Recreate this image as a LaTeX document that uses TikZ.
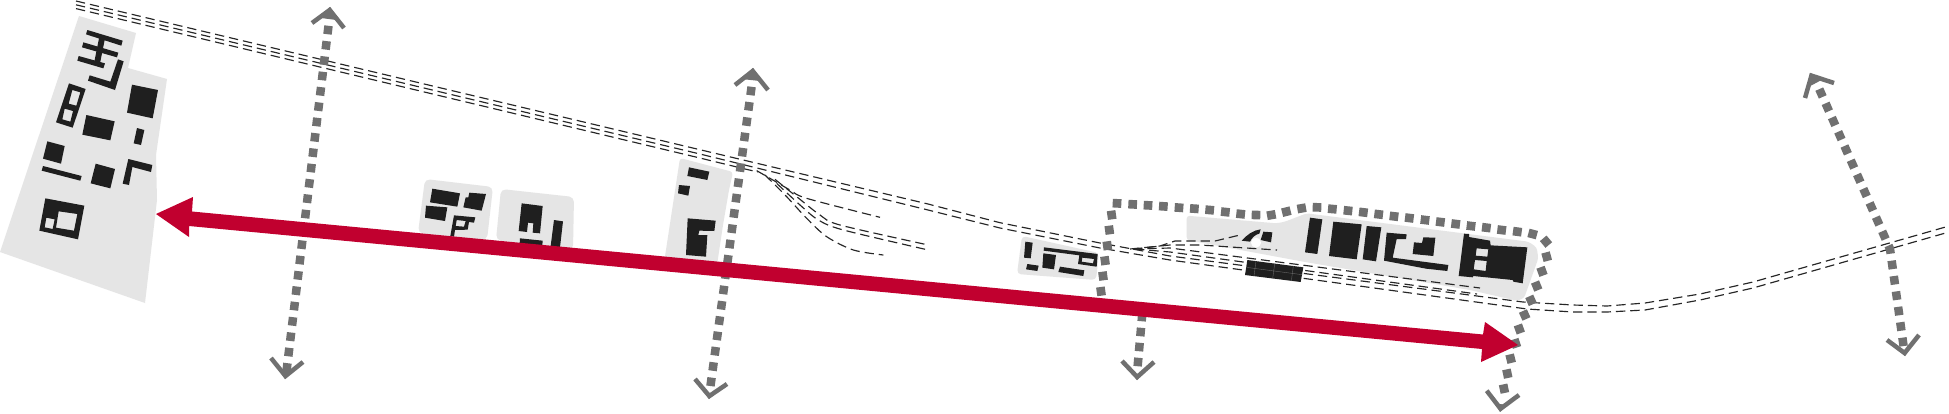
\documentclass[tikz,border=0pt]{standalone}
\usetikzlibrary{calc}
\definecolor{blob}{HTML}{E5E5E5}
\definecolor{bldg}{HTML}{1F1F1F}
\definecolor{dotgray}{HTML}{707070}
\definecolor{redarrow}{HTML}{C1002F}
\tikzset{
  zm/.style n args={3}{shift={(#1pt,-#2pt)},x=#3pt,y=-#3pt},
  ground/.style={fill=blob},
  groundr/.style={fill=blob,rounded corners=5pt},
  bld/.style={fill=bldg,even odd rule},
  rail/.style={draw=black!85,line width=1.15pt,dash pattern=on 9.3pt off 5pt},
  dotline/.style={draw=dotgray,line width=8.5pt,dash pattern=on 8.5pt off 6.95pt,shorten <=-4.25pt,shorten >=-4.25pt},
  chevron/.style={draw=dotgray,line width=4.5pt,miter limit=10}
}
\newcommand{\chev}[5]{%
  \draw[chevron] (#1) -- ($(#2)!3pt!(#4)$) -- (#3);
  \fill[dotgray] (#2) -- ($(#2)!#5!(#1)$) -- ($(#2)!#5!(#3)$) -- cycle;}
\begin{document}
\begin{tikzpicture}[x=1pt,y=-1pt]
\useasboundingbox[fill=white] (0,0) rectangle (1949,413);
% ground areas
\fill[ground] (79,16) -- (136,33) -- (128,68) -- (167,79) -- (156,155) -- (157,200) -- (145,303) -- (0,252) -- cycle;
\fill[groundr] (425,179) -- (493,187) -- (487,240) -- (418,233) -- cycle;
\fill[groundr] (501,189) -- (574,197) -- (573,250) -- (496,240) -- cycle;
\fill[ground,rounded corners=3pt] (680,158) -- (733,172) -- (729,190) -- (723,225) -- (717,265) -- (664,263) -- cycle;
\fill[ground,rounded corners=4pt] (1022,236) -- (1099,253) -- (1096,280) -- (1017,274) -- cycle;
\begin{scope}[zm={1170}{190}{0.33333}]
  \fill[ground,rounded corners=3pt] (50,77) -- (320,100) -- (345,95) -- (410,70) -- (1075,155) -- (1100,172) -- (1105,205) -- (1062,325) -- (1040,332) -- (900,300) -- (400,215) -- (50,150) -- cycle;
\end{scope}
% rails
\draw[rail] (76,1) -- (697,149) -- (928,204) -- (1000,222.7) -- (1100,243) -- (1170,256) -- (1523,302) -- (1573,305) -- (1607,306) -- (1645,303) -- (1700,294) -- (1753,282) -- (1949,226);
\draw[rail] (76,4.8) -- (697,153.3) -- (928,210) -- (1000,228) -- (1100,248) -- (1170,260) -- (1527,309) -- (1573,312) -- (1607,312) -- (1645,310) -- (1700,300) -- (1753,288) -- (1949,232);
\draw[rail] (76,8.6) -- (697,157.3) -- (745,169) -- (758,172);
\draw[rail] (1130,249) -- (1160,246) -- (1175,241) -- (1215,241) -- (1240,235);
\draw[rail] (1133,249) -- (1170,245) -- (1200,245) -- (1277,250);
\draw[rail] (1133,249) -- (1170,248) -- (1480,288);
\draw[rail] (1135,249) -- (1170,252) -- (1477,294);
\begin{scope}[zm={680}{50}{0.33333}]
  \draw[rail] plot[smooth] coordinates {(230,362) (270,385) (330,420) (380,445) (600,502)};
  \draw[rail] plot[smooth] coordinates {(285,388) (350,440) (420,495) (480,525) (745,585)};
  \draw[rail] plot[smooth] coordinates {(290,400) (360,465) (415,510) (490,540) (745,600)};
  \draw[rail] plot[smooth] coordinates {(255,375) (320,440) (380,505) (440,560) (520,600) (610,615)};
\end{scope}
% buildings: west quarter
\begin{scope}[zm={0}{0}{0.33333}]
  \fill[bld] (262,90) -- (368,122) -- (364,137) -- (258,103) -- cycle;
  \fill[bld] (250,127) -- (355,158) -- (351,172) -- (246,142) -- cycle;
  \fill[bld] (298,110) -- (315,115) -- (300,190) -- (283,185) -- cycle;
  \fill[bld] (236,168) -- (315,190) -- (310,205) -- (232,182) -- cycle;
  \fill[bld] (354,178) -- (371,184) -- (345,270) -- (264,242) -- (269,226) -- (331,245) -- cycle;
  \fill[bld] (207,250) -- (257,267) -- (218,383) -- (168,367) -- cycle (217,270) -- (241,277) -- (229,317) -- (206,311) -- cycle (194,326) -- (219,333) -- (211,365) -- (187,358) -- cycle;
  \fill[bld] (396,254) -- (474,270) -- (458,355) -- (381,338) -- cycle;
  \fill[bld] (259,345) -- (344,364) -- (331,421) -- (247,404) -- cycle;
  \fill[bld] (411,384) -- (433,390) -- (423,435) -- (401,430) -- cycle;
  \fill[bld] (142,424) -- (194,438) -- (183,491) -- (129,476) -- cycle;
  \fill[bld] (129,498) -- (245,528) -- (241,542) -- (125,512) -- cycle;
  \fill[bld] (287,491) -- (345,507) -- (331,565) -- (272,550) -- cycle;
  \fill[bld] (385,477) -- (457,495) -- (453,516) -- (397,501) -- (387,555) -- (368,551) -- cycle;
  \fill[bld] (136,595) -- (253,617) -- (234,718) -- (118,692) -- cycle (176,634) -- (232,642) -- (222,692) -- (168,683) -- cycle (139,653) -- (164,658) -- (158,687) -- (134,682) -- cycle;
\end{scope}
% buildings: two blocks
\begin{scope}[zm={400}{170}{0.33333}]
  \fill[bld] (97,56) -- (180,70) -- (172,110) -- (90,97) -- cycle;
  \fill[bld] (78,107) -- (142,112) -- (135,153) -- (75,143) -- cycle;
  \fill[bld] (208,68) -- (258,72) -- (245,122) -- (190,112) -- (197,82) -- (205,82) -- cycle;
  \fill[bld] (162,136) -- (226,142) -- (222,158) -- (207,156) -- (203,179) -- (165,180) -- (162,200) -- (151,198) -- cycle (170,150) -- (197,153) -- (192,170) -- (167,168) -- cycle;
  \fill[bld] (365,100) -- (428,108) -- (420,190) -- (398,188) -- (400,160) -- (384,158) -- (381,186) -- (356,183) -- cycle;
  \fill[bld] (360,205) -- (428,212) -- (426,240) -- (358,235) -- cycle;
  \fill[bld] (462,150) -- (489,154) -- (480,232) -- (452,228) -- cycle;
\end{scope}
% buildings: middle block
\begin{scope}[zm={680}{50}{0.33333}]
  \fill[bld] (27,352) -- (88,365) -- (82,390) -- (22,378) -- cycle;
  \fill[bld] (-3,405) -- (30,408) -- (25,437) -- (-6,430) -- cycle;
  \fill[bld] (23,505) -- (107,512) -- (103,543) -- (58,542) -- (55,555) -- (82,555) -- (78,620) -- (18,615) -- cycle;
\end{scope}
% buildings: small east block
\begin{scope}[zm={1000}{190}{0.33333}]
  \fill[bld] (76,155) -- (98,158) -- (92,205) -- (72,203) -- cycle;
  \fill[bld] (82,222) -- (116,227) -- (112,243) -- (78,238) -- cycle;
  \fill[bld] (130,190) -- (168,195) -- (162,238) -- (127,233) -- cycle;
  \fill[bld] (132,172) -- (293,192) -- (290,230) -- (234,222) -- (238,196) -- (131,182) -- cycle (247,203) -- (282,207) -- (279,220) -- (245,215) -- cycle;
  \fill[bld] (180,230) -- (253,241) -- (250,258) -- (175,246) -- cycle;
\end{scope}
% buildings: east block
\begin{scope}[zm={1170}{190}{0.33333}]
  \fill[bld] (420,83) -- (457,88) -- (442,192) -- (405,187) -- cycle;
  \fill[bld] (490,95) -- (575,103) -- (560,208) -- (477,198) -- cycle;
  \fill[bld] (590,108) -- (634,112) -- (618,214) -- (578,208) -- cycle;
  \fill[bld] (650,128) -- (710,133) -- (708,147) -- (680,147) -- (668,203) -- (835,225) -- (832,243) -- (768,236) -- (642,212) -- cycle;
  \fill[bld] (760,142) -- (796,143) -- (790,198) -- (728,192) -- (732,157) -- (756,159) -- cycle;
  \fill[bld] (882,131) -- (897,132) -- (897,141) -- (960,152) -- (962,166) -- (1072,172) -- (1058,280) -- (1030,275) -- (1028,270) -- (910,258) -- (908,262) -- (866,258) -- cycle (920,175) -- (955,178) -- (952,200) -- (917,197) -- cycle (915,210) -- (950,213) -- (947,243) -- (911,238) -- cycle;
  \fill[bld] (232,210) -- (400,232) -- (392,276) -- (225,255) -- cycle;
  \draw[black!60,line width=0.4pt] (258,213) -- (252,258) (314,221) -- (308,266) (370,228) -- (364,273) (229,232) -- (396,254);
  \fill[bld] (215,152) .. controls (230,135) and (250,120) .. (272,118) -- (268,131) .. controls (255,133) and (245,145) .. (240,155) -- cycle;
  \fill[bld] (280,125) -- (307,127) -- (303,157) -- (272,150) -- cycle;
  \fill[white] (258,158) circle[radius=15];
\end{scope}
% dotted connections
\coordinate (a1top) at (328,30); \coordinate (a1bot) at (287,367);
\coordinate (a2top) at (751,91); \coordinate (a2bot) at (711,382);
\coordinate (a3top) at (1142,317); \coordinate (a3bot) at (1138,362);
\coordinate (a4top) at (1821,93); \coordinate (a4mid) at (1890,249); \coordinate (a4bot) at (1903,342);
\draw[dotline] (a1top) -- (a1bot);
\draw[dotline] (a2top) -- (a2bot);
\draw[dotline,dash pattern=on 8.5pt off 6.56pt] (a3top) -- (a3bot);
\draw[dotline,dash pattern=on 8.5pt off 7.05pt] (a4top) -- (a4mid) -- (a4bot);
\chev{312,23}{330,7}{344,28}{a1top}{16pt}
\chev{271,358}{285,379}{303,362}{a1bot}{11pt}
\chev{735,85}{753,68}{768,90}{a2top}{16pt}
\chev{695,379}{709,399}{727,384}{a2bot}{8pt}
\chev{1122,361}{1137,380}{1154,362}{a3bot}{8pt}
\chev{1805,98}{1810,73}{1834,83}{a4top}{15pt}
\chev{1887,340}{1905,356}{1919,335}{a4bot}{8pt}
% dotted boundary of the east block
\begin{scope}[zm={1170}{190}{0.33333}]
  \foreach \px/\py/\ang in {-207/304/8,-201/258/8,-195/212/8,-188/167/8,-182/120/8,-175/75/8,-159/40/-3,-112/43/-3,-66/46/-3,-20/49/-4,27/53/-4,73/56/-4,119/60/-5,166/66/-6,212/72/-6,258/75/-2,304/75/10,349/65/14,395/55/10,441/52/-2,487/57/-5,534/62/-6,580/67/-7,626/73/-7,672/79/-7,718/84/-7,765/90/-7,811/96/-7,857/102/-7,903/108/-7,949/113/-7,995/120/-7,1042/125/-8,1088/132/-15,1128/155/-50,1130/200/-75,1116/244/-70,1100/288/-68,1083/331/-66,1064/375/-66,1048/417/-70,1037/460/-72,1022/506/-76,1012/551/-78,1002/596/-78}
    \fill[dotgray,shift={(\px,\py)},rotate=\ang] (-13,-13) rectangle (13,13);
\end{scope}
\chev{1486.7,390.7}{1500,411.7}{1519,395}{1504,389}{10pt}
% red axis
\fill[redarrow] (156,214) -- (193,197) -- (192,211.5) -- (1483,334.5) -- (1485,322) -- (1518,345) -- (1481,362) -- (1482,349) -- (189,226) -- (189,237) -- cycle;
\end{tikzpicture}
\end{document}
